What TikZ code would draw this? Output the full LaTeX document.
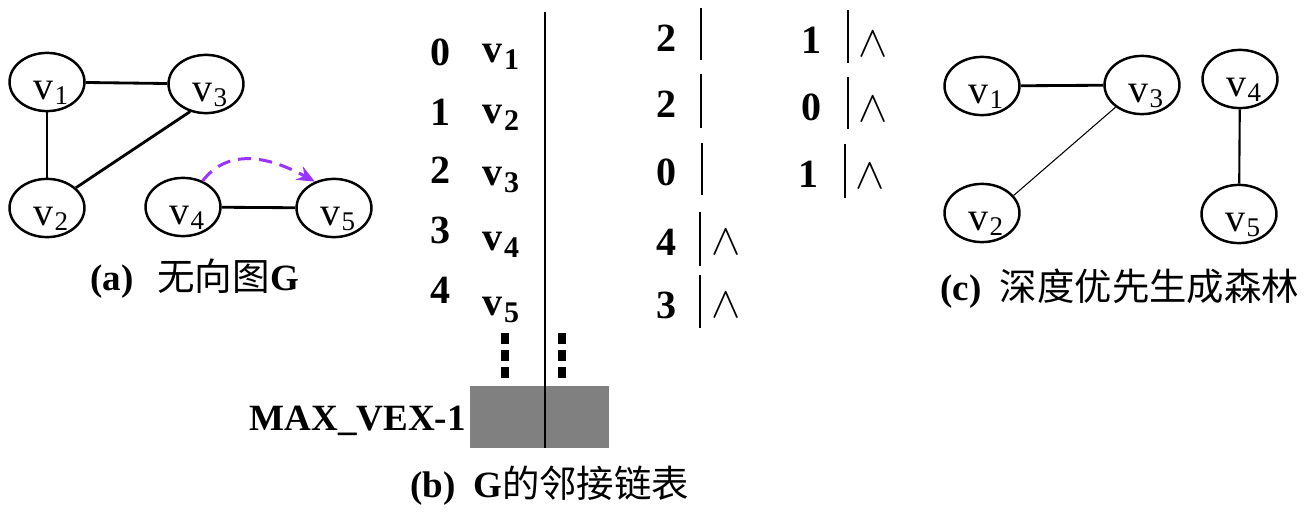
\documentclass[tikz,border=0pt]{standalone}
\usepackage{fontspec}
\setmainfont{Liberation Serif}
\newfontfamily\cjk{Noto Sans CJK SC}
\usetikzlibrary{shapes.geometric,arrows.meta}

\definecolor{dfsviolet}{RGB}{153,51,255}
\definecolor{boxgray}{RGB}{128,128,128}

% vertex label inside an ellipse: v with a lowered index
\newcommand\vn[1]{\kern4.5pt v\kern0.5pt\raisebox{-2.8pt}{\fontsize{15.3pt}{15.3pt}\selectfont #1}}
% bold vertex label of the adjacency list
\newcommand\vb[1]{\textbf{v\kern1pt\raisebox{-4.5pt}{\fontsize{17pt}{17pt}\selectfont #1}}}

\tikzset{
  vtx/.style={draw, ellipse, line width=1.4pt, minimum width=42.5pt, minimum height=33pt,
    inner sep=0pt, text height=20pt, text depth=0pt,
    font=\fontsize{22.7pt}{22.7pt}\selectfont},
  edge/.style={line width=1.6pt},
  thinedge/.style={line width=0.6pt},
  num/.style={anchor=base, inner sep=0pt, font=\bfseries\fontsize{22.7pt}{22.7pt}\selectfont},
  vlab/.style={anchor=base west, inner sep=0pt, font=\fontsize{22.7pt}{22.7pt}\selectfont},
  nil/.style={inner sep=0pt, font=\fontsize{24.88pt}{24.88pt}\selectfont},
  bar/.style={line width=1.3pt},
  caption/.style={anchor=base west, inner sep=0pt, font=\fontsize{21pt}{21pt}\selectfont},
  dots/.style={line width=4pt, dash pattern=on 6.24pt off 3.4pt},
  dfsarrow/.style={draw=dfsviolet, line width=1.7pt, dash pattern=on 7.5pt off 4.5pt,
    -{Stealth[length=10pt,width=8.5pt]}}
}

\begin{document}
\begin{tikzpicture}[x=0.567pt, y=-0.567pt]
\path[use as bounding box] (0,0) rectangle (1316,514);

% ---------------- (a) the undirected graph G ----------------
\node[vtx] (a1) at (47,82)  {\vn{1}};
\node[vtx] (a3) at (206,84) {\vn{3}};
\node[vtx] (a2) at (47,208) {\vn{2}};
\node[vtx] (a4) at (183,207) {\vn{4}};
\node[vtx] (a5) at (334,208) {\vn{5}};
\draw[edge] (a1) -- (a3);
\draw[edge] (a1) -- (a2);
\draw[edge] (a3.240) -- (a2.35);
\draw[edge] (a4) -- (a5);
\draw[dfsarrow] (a4.53) .. controls (228,148) and (268,156) .. (a5.126);

\node[caption] (capa) at (90,290)
  {\textbf{(a)}\hspace{13.5pt}{\cjk\fontsize{21.3pt}{21.3pt}\selectfont 无向图}\textbf{G}};

% ---------------- (b) adjacency list of G ----------------
\fill[boxgray] (470,386) rectangle (609,448);
\draw[bar] (545,12) -- (545,448);
\draw[dots] (505,333) -- (505,378);
\draw[dots] (562,333) -- (562,378);
\node[anchor=base east, inner sep=0pt, font=\bfseries\fontsize{21pt}{21pt}\selectfont]
  (maxv) at (466,430) {MAX\_VEX-1};

\node[num] (i0) at (441,65)  {0};
\node[num] (i1) at (441,125) {1};
\node[num] (i2) at (441,183) {2};
\node[num] (i3) at (441,243) {3};
\node[num] (i4) at (441,303) {4};
\node[vlab] (h0) at (482,62)  {\vb{1}};
\node[vlab] (h1) at (482,123) {\vb{2}};
\node[vlab] (h2) at (482,185) {\vb{3}};
\node[vlab] (h3) at (482,250) {\vb{4}};
\node[vlab] (h4) at (482,315) {\vb{5}};

% first edge nodes
\node[num] (m0) at (667,52)  {2};
\node[num] (m1) at (667,117) {2};
\node[num] (m2) at (667,185) {0};
\node[num] (m3) at (667,255) {4};
\node[num] (m4) at (667,318) {3};
\draw[bar] (701,8)   -- (701,60);
\draw[bar] (701,74)  -- (701,128);
\draw[bar] (702,143) -- (702,195);
\draw[bar] (700,212) -- (700,266);
\draw[bar] (700,275) -- (700,328);
\node[nil] (n3) at (726,242) {$\wedge$};
\node[nil] (n4) at (726,305) {$\wedge$};

% second edge nodes
\node[num] (s0) at (812,53)  {1};
\node[num] (s1) at (812,120) {0};
\node[num] (s2) at (809,187) {1};
\draw[bar] (848,10)  -- (848,63);
\draw[bar] (848,77)  -- (848,129);
\draw[bar] (845,144) -- (845,198);
\node[nil] (n0) at (873,44.5)  {$\wedge$};
\node[nil] (n1) at (873,109.5) {$\wedge$};
\node[nil] (n2) at (870,176.5) {$\wedge$};

\node[caption] (capb) at (410,497)
  {\textbf{(b)}\hspace{10pt}\textbf{G}{\cjk\fontsize{21.2pt}{21.2pt}\selectfont 的邻接链表}};

% ---------------- (c) depth-first spanning forest ----------------
\node[vtx] (c1) at (982,86)   {\vn{1}};
\node[vtx] (c3) at (1142,85)  {\vn{3}};
\node[vtx] (c2) at (982,213)  {\vn{2}};
\node[vtx] (c4) at (1240,79)  {\vn{4}};
\node[vtx] (c5) at (1239,214) {\vn{5}};
\draw[edge] (c1) -- (c3);
\draw[thinedge] (c3.220) -- (c2.29);
\draw[line width=1.2pt] (c4) -- (c5);

\node[caption] (capc) at (940,300)
  {\textbf{(c)}\hspace{10.5pt}{\cjk\fontsize{21.2pt}{21.2pt}\selectfont 深度优先生成森林}};
\end{tikzpicture}
\end{document}
